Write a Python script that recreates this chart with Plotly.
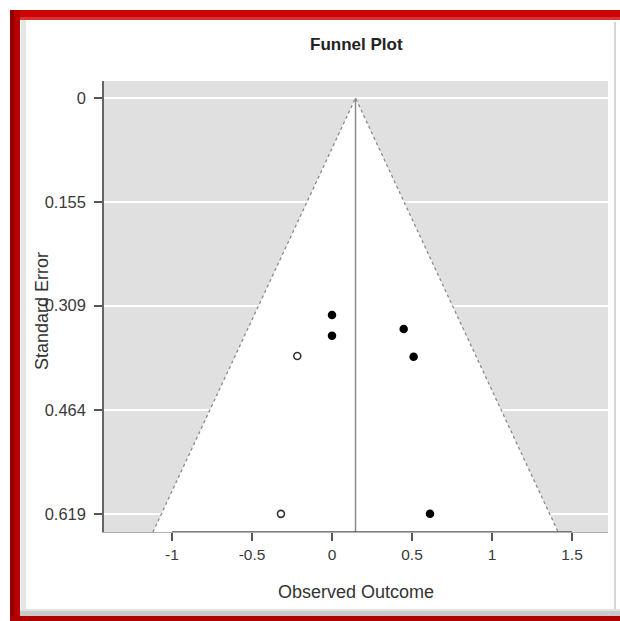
import plotly.graph_objects as go

# Observed studies (filled) and trim-and-fill imputed studies (open)
observed_x = [0.0, 0.0, 0.448, 0.51, 0.6125]
observed_se = [0.323, 0.354, 0.344, 0.385, 0.619]
imputed_x = [-0.217, -0.319]
imputed_se = [0.384, 0.619]

pooled_estimate = 0.147
z_crit = 1.96

x_tick_vals = [-1, -0.5, 0, 0.5, 1, 1.5]
x_tick_text = ["-1", "-0.5", "0", "0.5", "1", "1.5"]
y_tick_vals = [0, 0.155, 0.309, 0.464, 0.619]
y_tick_text = ["0", "0.155", "0.309", "0.464", "0.619"]

x_range = [-1.425, 1.725]
se_bottom = 0.646
se_top = -0.0253

W, H = 620, 621
L, R, T, B = 104, 608, 81, 532  # plot area in pixels


def px(x):
    return (x - L) / (R - L)


def py(y):
    return (B - y) / (B - T)


fig = go.Figure()

# funnel region (pseudo confidence region)
fun_x = [pooled_estimate - z_crit * se_bottom, pooled_estimate,
         pooled_estimate + z_crit * se_bottom]
fun_y = [se_bottom, 0, se_bottom]
fig.add_trace(go.Scatter(
    x=fun_x, y=fun_y, mode="lines", fill="toself", fillcolor="white",
    line=dict(color="#8a8a8a", width=1.3, dash="dot"),
    hoverinfo="skip", showlegend=False))

# vertical line at pooled estimate
fig.add_trace(go.Scatter(
    x=[pooled_estimate, pooled_estimate], y=[0, se_bottom], mode="lines",
    line=dict(color="#8c8c8c", width=1.5), hoverinfo="skip", showlegend=False))

fig.add_trace(go.Scatter(
    x=observed_x, y=observed_se, mode="markers",
    marker=dict(size=8.5, color="black", line=dict(width=0)),
    showlegend=False))
fig.add_trace(go.Scatter(
    x=imputed_x, y=imputed_se, mode="markers",
    marker=dict(size=7, color="white", line=dict(width=1.6, color="#333333")),
    showlegend=False))

shapes = []


def rect(x0, y0, x1, y1, color):
    shapes.append(dict(type="rect", xref="paper", yref="paper",
                       x0=px(x0), x1=px(x1), y0=py(y1), y1=py(y0),
                       fillcolor=color, line=dict(width=0), layer="above"))


# window frame
rect(10, 10, 620, 20, "#cc0505")
rect(10, 17, 620, 20, "#d93030")
rect(10, 10, 20, 621, "#b80000")
rect(10, 10, 14, 621, "#940000")
rect(21, 20, 26, 612, "#e4e6e8")
rect(20, 609, 620, 616, "#c9c9c9")
rect(20, 609, 620, 611, "#e2e2e2")
rect(10, 616, 620, 621, "#b00000")
rect(614, 22, 616, 609, "#d6d6d6")

# x axis line spanning the ticks
shapes.append(dict(type="line", xref="x", yref="y", x0=-1, x1=1.5,
                   y0=se_bottom, y1=se_bottom,
                   line=dict(color="#555555", width=1.5)))

fig.update_layout(
    width=W, height=H,
    margin=dict(l=L, r=W - R, t=T, b=H - B, pad=0),
    paper_bgcolor="white", plot_bgcolor="#e0e0e0",
    font=dict(family="Liberation Sans, Arial, sans-serif", color="#333333"),
    shapes=shapes,
    xaxis=dict(range=x_range, tickvals=x_tick_vals, ticktext=x_tick_text,
               ticks="outside", ticklen=8, tickwidth=1.5, tickcolor="#555555",
               showgrid=False, zeroline=False, showline=True,
               linecolor="#b0b0b0", linewidth=1,
               tickfont=dict(size=15.5, color="#3a3a3a")),
    yaxis=dict(range=[se_bottom, se_top], tickvals=y_tick_vals,
               ticktext=y_tick_text, ticks="outside", ticklen=8, tickwidth=1.5,
               tickcolor="#555555", showgrid=True, gridcolor="white",
               gridwidth=2, zeroline=False, showline=True,
               linecolor="#666666", linewidth=1.5, ticklabelstandoff=5,
               tickfont=dict(size=16.5, color="#3a3a3a")),
    annotations=[
        dict(text="<b>Funnel Plot</b>", xref="paper", yref="paper",
             x=px(356), y=py(45), showarrow=False, xanchor="center",
             yanchor="middle",
             font=dict(size=17, color="#222222",
                       family="Liberation Sans Narrow, Liberation Sans, Arial")),
        dict(text="Observed Outcome", xref="paper", yref="paper",
             x=px(356), y=py(592), showarrow=False, xanchor="center",
             yanchor="middle", font=dict(size=18, color="#333333")),
        dict(text="Standard Error", xref="paper", yref="paper",
             x=px(42), y=py(311), showarrow=False, xanchor="center",
             yanchor="middle", textangle=-90,
             font=dict(size=18, color="#333333")),
    ],
)

fig.write_html("out.html")
